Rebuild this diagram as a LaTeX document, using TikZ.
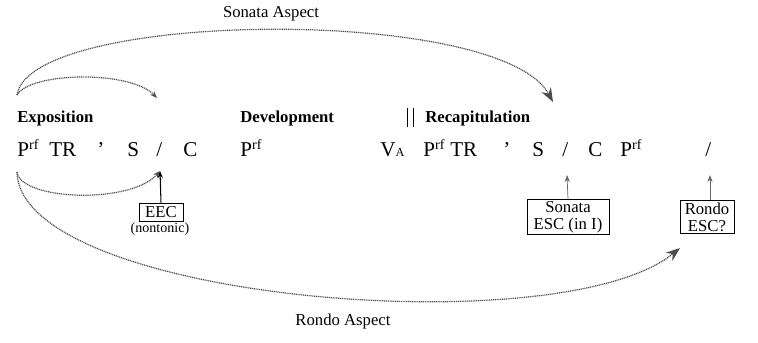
\documentclass[tikz,border=0pt]{standalone}
\usepackage{fontspec}
\setmainfont{Liberation Serif}
\usetikzlibrary{arrows.meta}
\newcommand{\prf}{P\textsuperscript{rf}}
\newcommand{\va}{V{\fontsize{7}{7}\selectfont A}}

\begin{document}
\begin{tikzpicture}[>=stealth,
  sym/.style={anchor=base west, inner sep=0pt, font=\fontsize{12}{14}\selectfont},
  head/.style={anchor=base west, inner sep=0pt, font=\fontsize{9.5}{11}\selectfont\bfseries},
  label/.style={font=\fontsize{9.5}{11}\selectfont},
  escbox/.style={draw, line width=0.5pt, align=center, inner sep=1pt, font=\fontsize{9.5}{9.5}\selectfont},
  aspect/.style={dash pattern=on 0.6pt off 0.45pt, line width=0.7pt, black!70},
  bigtip/.style={-{Stealth[length=8pt, width=6pt]}},
  smalltip/.style={-{Stealth[length=4pt, width=3pt]}}]
  \useasboundingbox (0,0) rectangle (15.16,6.84);
  % Titles of the arcs
  \node[label] (sonAsp) at (5.42,6.56) {Sonata Aspect};
  \node[label] (ronAsp) at (6.86,0.42) {Rondo Aspect};
  % Headings
  \node[head] (expo) at (0.34,4.38) {Exposition};
  \node[head] (devel) at (4.8,4.38) {Development};
  \node[head] (recap) at (8.5,4.38) {Recapitulation};
  \draw[line width=0.45pt] (8.15,4.68) -- (8.15,4.3);
  \draw[line width=0.45pt] (8.26,4.68) -- (8.26,4.3);
  % Exposition row
  \node[sym] (p1) at (0.34,3.7) {\prf};
  \node[sym] (tr1) at (0.98,3.7) {TR};
  \node[sym] (ap1) at (1.94,3.7) {'};
  \node[sym] (s1) at (2.54,3.7) {S};
  \node[sym] (sl1) at (3.12,3.7) {/};
  \node[sym] (c1) at (3.66,3.7) {C};
  \node[sym] (p2) at (4.8,3.7) {\prf};
  % Recapitulation row
  \node[sym] (va) at (7.6,3.7) {\va};
  \node[sym] (p3) at (8.46,3.7) {\prf};
  \node[sym] (tr3) at (9.0,3.7) {TR};
  \node[sym] (ap3) at (10.06,3.7) {'};
  \node[sym] (s3) at (10.64,3.7) {S};
  \node[sym] (sl3) at (11.24,3.7) {/};
  \node[sym] (c3) at (11.76,3.7) {C};
  \node[sym] (p4) at (12.4,3.7) {\prf};
  \node[sym] (sl4) at (14.1,3.7) {/};
  % Boxes below
  \node[escbox, minimum width=0.88cm, minimum height=0.36cm] (eec) at (3.22,2.6) {EEC};
  \node[font=\fontsize{8}{9}\selectfont, inner sep=0pt] (nonton) at (3.2,2.26) {(nontonic)};
  \node[escbox, minimum width=1.64cm, minimum height=0.66cm] (sonESC) at (11.36,2.5) {Sonata\\ESC (in I)};
  \node[escbox, minimum width=1.08cm, minimum height=0.66cm] (ronESC) at (14.14,2.5) {Rondo\\ESC?};
  % Arrow tips
  \coordinate (topStart) at (0.34,4.94);
  \coordinate (botStart) at (0.34,3.4);
  \coordinate (eecTip) at (3.2,3.42);
  \coordinate (expTip) at (3.14,4.88);
  \coordinate (recTip) at (11.06,4.8);
  \coordinate (sonTip) at (11.34,3.34);
  \coordinate (ronTip) at (14.2,3.34);
  \coordinate (ronArc) at (13.6,1.88);
  % Box arrows
  \draw[smalltip, line width=0.6pt] (eec.north) -- (eecTip);
  \draw[smalltip, black!60, line width=0.4pt] (sonESC.north) -- (sonTip);
  \draw[smalltip, black!60, line width=0.4pt] (ronESC.north -| ronTip) -- (ronTip);
  % Sonata aspect
  \draw[aspect, bigtip] (topStart) .. controls (0.6,6.64) and (10,6.74) .. (recTip);
  \draw[aspect, smalltip] (topStart) .. controls (0.6,5.4) and (2.6,5.44) .. (expTip);
  % Rondo aspect
  \draw[aspect, smalltip] (botStart) .. controls (0.4,2.84) and (2.6,2.74) .. (eecTip);
  \draw[aspect, bigtip] (botStart) .. controls (0.4,0.84) and (11.2,-0.06) .. (ronArc);
\end{tikzpicture}
\end{document}
